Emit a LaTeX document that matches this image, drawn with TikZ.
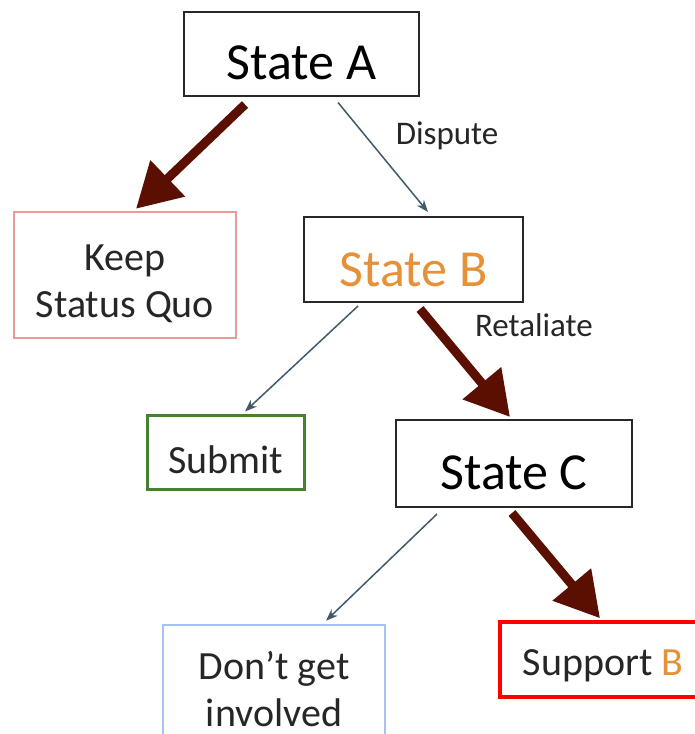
\documentclass[tikz,border=0pt]{standalone}
\usepackage{fontspec}
\setmainfont{Carlito}
\usetikzlibrary{arrows.meta}
\definecolor{berry}{HTML}{5B0F00}
\definecolor{slate}{RGB}{65,90,105}
\definecolor{orangeB}{HTML}{E69138}
\definecolor{pinkbox}{HTML}{EA9999}
\definecolor{greenbox}{RGB}{70,130,45}
\definecolor{bluebox}{HTML}{A4C2F4}
\definecolor{boxgray}{RGB}{40,40,40}
\tikzset{
  statebox/.style={draw=boxgray, line width=2pt, inner sep=0pt},
  choicebox/.style={line width=2.5pt, inner sep=0pt},
  bigtext/.style={inner sep=0pt, align=center, font=\fontsize{52}{60}\selectfont},
  choicetext/.style={inner sep=0pt, align=center, text=black!85, font=\fontsize{40}{47}\selectfont},
  thick arrow/.style={draw=berry, line width=9pt, -{Triangle[length=44pt,width=48pt]}},
  thin arrow/.style={draw=slate, line width=1.5pt, -{Stealth[length=12pt,width=9pt]}},
  edgelabel/.style={font=\fontsize{33}{40}\selectfont, text=black!85, inner sep=0pt}
}
\begin{document}
\begin{tikzpicture}[x=1pt,y=-1pt]
\useasboundingbox (0,0) rectangle (695,734);
\clip (0,0) rectangle (695,734);
\fill[white] (0,0) rectangle (695,734);
% boxes
\node[statebox, minimum width=235pt, minimum height=84pt] (A) at (301.5,53.5) {};
\node[bigtext] (Atext) at ([yshift=-9pt]A.center) {State A};
\node[statebox, minimum width=219pt, minimum height=85pt] (B) at (413.5,259.5) {};
\node[bigtext, text=orangeB] (Btext) at ([yshift=-10pt]B.center) {State B};
\node[statebox, minimum width=236pt, minimum height=87pt] (C) at (514,463.5) {};
\node[bigtext] (Ctext) at ([yshift=-9pt]C.center) {State C};
\node[choicebox, draw=pinkbox, minimum width=222pt, minimum height=126pt] (keep) at (125,275) {};
\node[choicetext] (keeptext) at ([yshift=-9pt]keep.center) {Keep\\Status Quo};
\node[choicebox, draw=greenbox, line width=3pt, minimum width=157pt, minimum height=74pt] (submit) at (225.5,452) {};
\node[choicetext] (submittext) at ([yshift=-8pt]submit.center) {Submit};
\node[choicebox, draw=bluebox, minimum width=222pt, minimum height=136pt] (dont) at (274,693) {};
\node[choicetext] (donttext) at ([yshift=4pt]dont.center) {Don’t get\\involved};
\node[choicebox, draw=red, line width=3.5pt, minimum width=206pt, minimum height=75pt] (support) at (603,659.5) {};
\node[choicetext] (supporttext) at ([yshift=-6pt]support.center) {Support \textcolor{orangeB}{B}};
% connectors
\draw[thick arrow] ([xshift=-56.5pt,yshift=-8pt]A.south) -- ([xshift=11pt,yshift=2pt]keep.north);
\draw[thin arrow] ([xshift=36.5pt,yshift=-6pt]A.south) -- ([xshift=14.5pt,yshift=4pt]B.north)
  node[edgelabel, pos=0.3, anchor=west, xshift=30pt] (lblA) {Dispute};
\draw[thin arrow] ([xshift=-55.5pt,yshift=-3pt]B.south) -- ([xshift=19.5pt,yshift=2pt]submit.north);
\draw[thick arrow] ([xshift=6.5pt,yshift=-6pt]B.south) -- ([xshift=-4pt,yshift=2pt]C.north)
  node[edgelabel, pos=0.15, anchor=west, xshift=37pt] (lblB) {Retaliate};
\draw[thin arrow] ([xshift=-77pt,yshift=-6pt]C.south) -- ([xshift=52pt,yshift=3pt]dont.north);
\draw[thick arrow] ([xshift=-2pt,yshift=-5pt]C.south) -- ([xshift=-3pt,yshift=2pt]support.north);
\end{tikzpicture}
\end{document}
